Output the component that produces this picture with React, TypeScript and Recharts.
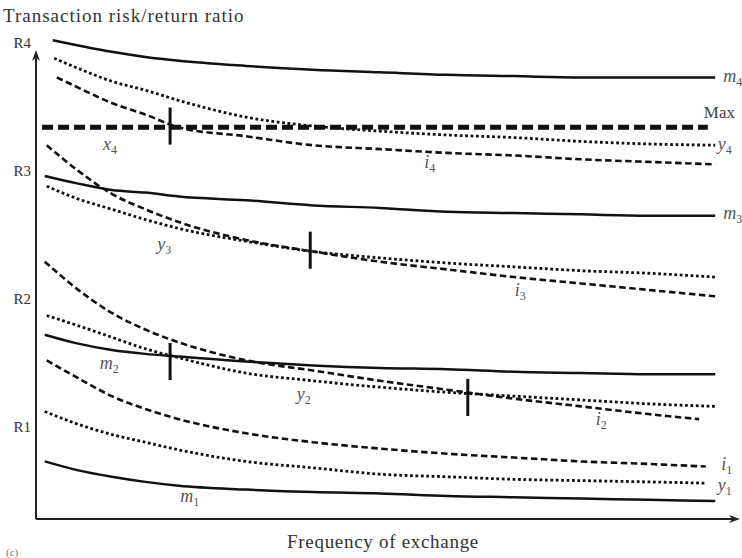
import { LineChart, Line, XAxis, YAxis, ReferenceLine, ReferenceDot } from 'recharts'

// risk/return levels shown on the vertical axis
const levels = [1, 2, 3, 4]
const freqMid = [5, 10, 15, 20, 30, 40, 50, 60, 70, 80, 90]

// m = market, y = hybrid, i = hierarchy (x-values are frequency, y-values risk/return)
const m4X = [1.2, ...freqMid, 100]
const m4Y = [4.02, 3.98, 3.93, 3.89, 3.86, 3.82, 3.79, 3.77, 3.75, 3.74, 3.73, 3.73, 3.73]
const y4X = [1.4, ...freqMid, 100]
const y4Y = [3.88, 3.8, 3.7, 3.63, 3.55, 3.42, 3.35, 3.31, 3.28, 3.26, 3.23, 3.21, 3.2]
const i4X = [1.8, ...freqMid, 100]
const i4Y = [3.73, 3.65, 3.53, 3.44, 3.34, 3.27, 3.2, 3.17, 3.14, 3.12, 3.09, 3.07, 3.05]

const m3X = [0, ...freqMid, 100]
const m3Y = [2.96, 2.9, 2.85, 2.83, 2.8, 2.77, 2.73, 2.71, 2.68, 2.67, 2.66, 2.65, 2.65]
const y3X = [0.3, ...freqMid, 100]
const y3Y = [2.88, 2.78, 2.7, 2.62, 2.55, 2.45, 2.37, 2.32, 2.28, 2.25, 2.22, 2.2, 2.17]
const i3X = [0.3, ...freqMid, 100]
const i3Y = [3.2, 3.0, 2.82, 2.7, 2.6, 2.46, 2.37, 2.29, 2.23, 2.17, 2.12, 2.07, 2.02]

const m2X = [0, ...freqMid, 100]
const m2Y = [1.72, 1.65, 1.6, 1.57, 1.55, 1.51, 1.48, 1.46, 1.45, 1.43, 1.42, 1.41, 1.41]
const y2X = [0.3, ...freqMid, 100]
const y2Y = [1.87, 1.79, 1.7, 1.61, 1.54, 1.42, 1.36, 1.31, 1.27, 1.24, 1.21, 1.18, 1.16]
const i2X = [0, ...freqMid, 97.6]
const i2Y = [2.29, 2.07, 1.89, 1.76, 1.66, 1.52, 1.44, 1.36, 1.29, 1.22, 1.16, 1.1, 1.06]

const i1X = [0.3, ...freqMid, 98.6]
const i1Y = [1.52, 1.38, 1.24, 1.14, 1.06, 0.95, 0.88, 0.83, 0.79, 0.76, 0.73, 0.71, 0.69]
const y1X = [0, ...freqMid, 98.6]
const y1Y = [1.12, 1.02, 0.94, 0.88, 0.82, 0.73, 0.68, 0.63, 0.61, 0.59, 0.58, 0.57, 0.56]
const m1X = [0, ...freqMid, 100]
const m1Y = [0.73, 0.66, 0.61, 0.57, 0.54, 0.51, 0.49, 0.48, 0.46, 0.45, 0.44, 0.43, 0.42]

// upper limit of acceptable risk
const maxLevel = 3.34
const maxFrom = -0.4
const maxTo = 98.9

// switch points (frequency, level)
const switchX = [18.7, 39.6, 18.7, 63.1]
const switchY = [3.35, 2.38, 1.51, 1.23]

// curve labels: text, subscript, frequency, level
const labelText = ['m', 'y', 'i', 'x', 'm', 'y', 'i', 'm', 'y', 'i', 'i', 'y', 'm']
const labelSub = ['4', '4', '4', '4', '3', '3', '3', '2', '2', '2', '1', '1', '1']
const labelX = [101.2, 100.4, 56.6, 8.7, 101.2, 16.8, 70.1, 8.2, 37.6, 82.2, 100.9, 100.4, 20.2]
const labelY = [3.73, 3.2, 3.06, 3.2, 2.66, 2.42, 2.06, 1.49, 1.25, 1.05, 0.7, 0.54, 0.45]

const FONT = "'Liberation Serif', 'DejaVu Serif', serif"
const INK = '#111'

type Kind = 'solid' | 'dotted' | 'dashed'

const series: { key: string; kind: Kind; xs: number[]; ys: number[] }[] = [
  { key: 'm4', kind: 'solid', xs: m4X, ys: m4Y },
  { key: 'y4', kind: 'dotted', xs: y4X, ys: y4Y },
  { key: 'i4', kind: 'dashed', xs: i4X, ys: i4Y },
  { key: 'm3', kind: 'solid', xs: m3X, ys: m3Y },
  { key: 'y3', kind: 'dotted', xs: y3X, ys: y3Y },
  { key: 'i3', kind: 'dashed', xs: i3X, ys: i3Y },
  { key: 'm2', kind: 'solid', xs: m2X, ys: m2Y },
  { key: 'y2', kind: 'dotted', xs: y2X, ys: y2Y },
  { key: 'i2', kind: 'dashed', xs: i2X, ys: i2Y },
  { key: 'i1', kind: 'dashed', xs: i1X, ys: i1Y },
  { key: 'y1', kind: 'dotted', xs: y1X, ys: y1Y },
  { key: 'm1', kind: 'solid', xs: m1X, ys: m1Y },
]

const dashFor: Record<Kind, string | undefined> = {
  solid: undefined,
  dotted: '2.8 2.6',
  dashed: '6.5 3.5',
}

const widthFor: Record<Kind, number> = {
  solid: 2.5,
  dotted: 2.8,
  dashed: 2.6,
}

function AxisArrow(p: any) {
  const { x1, y1, x2, y2 } = p
  const a = Math.atan2(y2 - y1, x2 - x1)
  const c = Math.cos(a)
  const s = Math.sin(a)
  const len = 11
  const half = 4
  const bx = x2 - len * c
  const by = y2 - len * s
  const nx = x2 - len * 0.7 * c
  const ny = y2 - len * 0.7 * s
  const pts = [
    [x2, y2],
    [bx + half * s, by - half * c],
    [nx, ny],
    [bx - half * s, by + half * c],
  ]
    .map((q) => q.join(','))
    .join(' ')
  return (
    <g>
      <line x1={x1} y1={y1} x2={nx} y2={ny} stroke="#222" strokeWidth={2} />
      <polygon points={pts} fill="#222" />
    </g>
  )
}

function CurveLabel(i: number) {
  return (p: any) => (
    <text
      x={p.cx}
      y={p.cy + 5}
      fontFamily={FONT}
      fontSize={18}
      fill="#555"
      textAnchor="start"
    >
      <tspan fontStyle="italic">{labelText[i]}</tspan>
      <tspan dy={4} fontSize={12}>
        {labelSub[i]}
      </tspan>
    </text>
  )
}

export default function App() {
  return (
    <div style={{ position: 'absolute', left: 0, top: 0, width: 742, height: 558, background: '#fff' }}>
      <LineChart width={742} height={558} margin={{ top: 39, right: 2, bottom: 39, left: 0 }}>
        <XAxis type="number" dataKey="x" hide domain={[-1.3, 103.7]} allowDataOverflow />
        <YAxis
          type="number"
          domain={[0.28, 4.03]}
          allowDataOverflow
          ticks={levels}
          tickFormatter={(v) => `R${v}`}
          axisLine={false}
          tickLine={false}
          tickSize={0}
          tickMargin={5}
          width={36}
          tick={{ fill: '#333', fontSize: 15, fontFamily: FONT }}
        />
        <ReferenceLine
          segment={[
            { x: -1.3, y: 0.28 },
            { x: -1.3, y: 3.945 },
          ]}
          shape={AxisArrow}
        />
        <ReferenceLine
          segment={[
            { x: -1.3, y: 0.28 },
            { x: 103.7, y: 0.28 },
          ]}
          shape={AxisArrow}
        />
        <ReferenceLine
          segment={[
            { x: maxFrom, y: maxLevel },
            { x: maxTo, y: maxLevel },
          ]}
          stroke={INK}
          strokeWidth={5}
          strokeDasharray="11 5"
        />
        {series.map((s) => (
          <Line
            key={s.key}
            data={s.xs.map((x, j) => ({ x, y: s.ys[j] }))}
            dataKey="y"
            type="monotone"
            stroke={INK}
            strokeWidth={widthFor[s.kind]}
            strokeDasharray={dashFor[s.kind]}
            dot={false}
            activeDot={false}
            isAnimationActive={false}
          />
        ))}
        {switchX.map((x, j) => (
          <ReferenceLine
            key={`sw${j}`}
            segment={[
              { x, y: switchY[j] - 0.145 },
              { x, y: switchY[j] + 0.145 },
            ]}
            stroke={INK}
            strokeWidth={3}
          />
        ))}
        {labelX.map((x, j) => (
          <ReferenceDot key={`lb${j}`} x={x} y={labelY[j]} r={0} shape={CurveLabel(j)} />
        ))}
        <ReferenceDot
          x={98.3}
          y={3.45}
          r={0}
          shape={(p: any) => (
            <text x={p.cx} y={p.cy + 5} fontFamily={FONT} fontSize={17} fill="#444">
              Max
            </text>
          )}
        />
      </LineChart>
      <svg
        width={742}
        height={558}
        style={{ position: 'absolute', left: 0, top: 0, pointerEvents: 'none' }}
      >
        <text x={3} y={22} fontFamily={FONT} fontSize={19} letterSpacing={1} fill="#333">
          Transaction risk/return ratio
        </text>
        <text x={383} y={548} fontFamily={FONT} fontSize={19} letterSpacing={0.7} fill="#333" textAnchor="middle">
          Frequency of exchange
        </text>
        <text x={6} y={556} fontFamily={FONT} fontSize={11} fill="#777">
          (c)
        </text>
      </svg>
    </div>
  )
}
